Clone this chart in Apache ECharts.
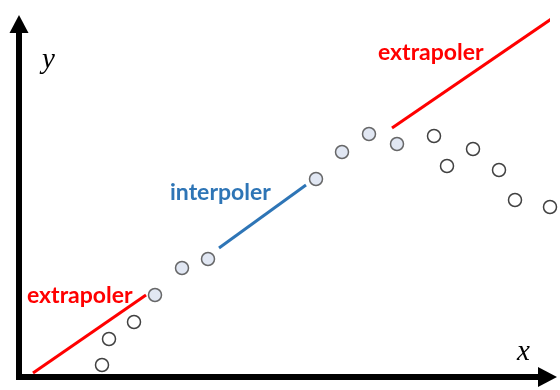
<!DOCTYPE html>
<html>
<head>
<meta charset="utf-8">
<script src="https://cdn.jsdelivr.net/npm/echarts@6/dist/echarts.min.js"></script>
<style>
html,body{margin:0;padding:0;background:#fff;}
#chart{width:560px;height:390px;}
</style>
</head>
<body>
<div id="chart"></div>
<script>
// Data (x, y) in axis units
var knownPoints = [[136, 82], [163, 109], [189, 118], [297, 198], [323, 225], [350, 243], [378, 233]];
var unknownPoints = [[83, 12], [90, 38], [115, 55], [415, 241], [428, 211], [454, 228], [480, 207], [496, 177], [531, 170]];
var extrapolLow = [[14, 4], [127, 82]];
var interpol = [[200, 129], [287, 192]];
var extrapolHigh = [[373, 249], [541, 364]];
var labels = { extra: 'extrapoler', inter: 'interpoler', x: 'x', y: 'y' };

var chart = echarts.init(document.getElementById('chart'));
var RED = '#ff0000', BLUE = '#2e75b6';
var axisCommon = {
  type: 'value', min: 0,
  splitLine: { show: false }, axisTick: { show: false }, axisLabel: { show: false },
  axisLine: { show: true, onZero: false, symbol: ['none', 'triangle'],
    lineStyle: { color: '#000', width: 6, cap: 'square' } }
};
chart.setOption({
  animation: false,
  grid: { left: 19, right: 12.5, top: 24, bottom: 13 },
  xAxis: Object.assign({}, axisCommon, { max: 528.5,
    axisLine: Object.assign({}, axisCommon.axisLine, { symbolSize: [20, 19] }) }),
  yAxis: Object.assign({}, axisCommon, { max: 353,
    axisLine: Object.assign({}, axisCommon.axisLine, { symbolSize: [19, 18] }) }),
  series: [
    { type: 'line', data: extrapolLow, showSymbol: false, clip: false,
      lineStyle: { color: RED, width: 3 } },
    { type: 'line', data: interpol, showSymbol: false, clip: false,
      lineStyle: { color: BLUE, width: 3 } },
    { type: 'line', data: extrapolHigh, showSymbol: false, clip: false,
      lineStyle: { color: RED, width: 3 } },
    { type: 'scatter', data: knownPoints, symbolSize: 13, clip: false,
      itemStyle: { color: '#d9e1f0', borderColor: '#444', borderWidth: 1.5 } },
    { type: 'scatter', data: unknownPoints, symbolSize: 13, clip: false,
      itemStyle: { color: '#fff', borderColor: '#111', borderWidth: 1.5 } }
  ],
  graphic: [
    { type: 'text', left: 27, top: 284, style: { text: labels.extra, fill: RED,
      font: 'bold 23px Lato' } },
    { type: 'text', left: 378, top: 41, style: { text: labels.extra, fill: RED,
      font: 'bold 23px Lato' } },
    { type: 'text', left: 170, top: 181, style: { text: labels.inter, fill: BLUE,
      font: 'bold 23px Lato' } },
    { type: 'text', left: 42, top: 46, style: { text: labels.y, fill: '#000',
      font: 'italic 29px "Liberation Serif"' } },
    { type: 'text', left: 517, top: 338, style: { text: labels.x, fill: '#000',
      font: 'italic 29px "Liberation Serif"' } }
  ]
});
</script>
</body>
</html>
